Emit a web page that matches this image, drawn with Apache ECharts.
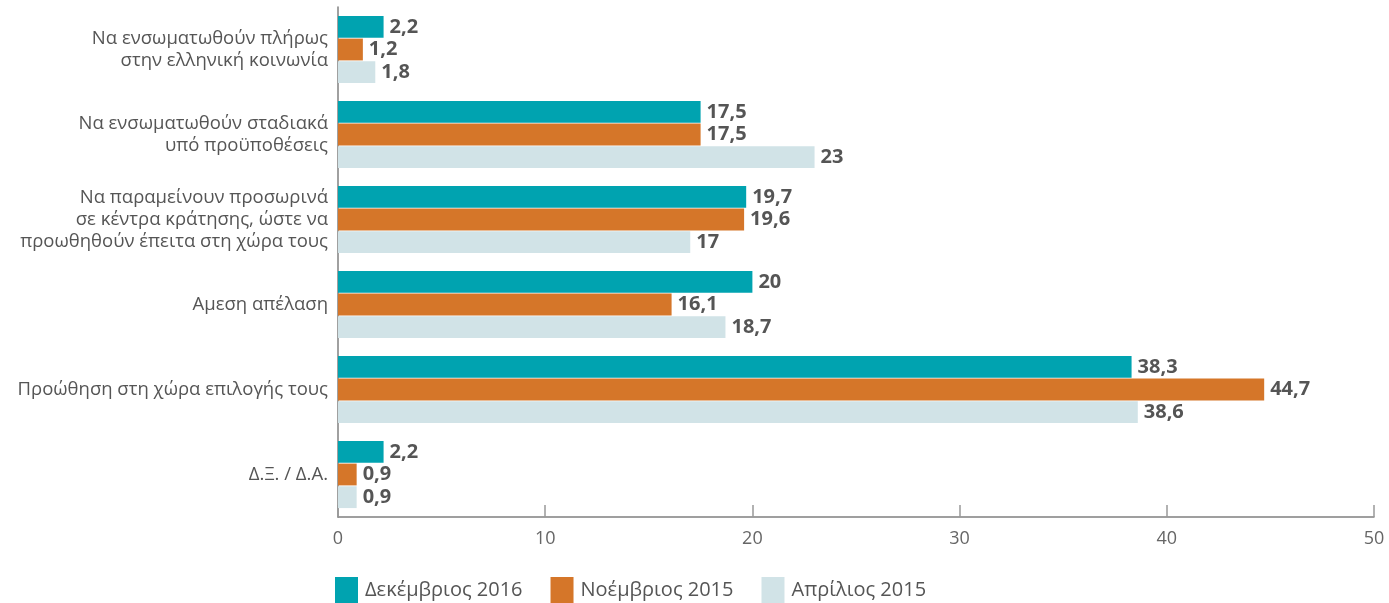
<!DOCTYPE html>
<html>
<head>
<meta charset="utf-8">
<script src="https://cdn.jsdelivr.net/npm/echarts@6/dist/echarts.min.js"></script>
<style>
  html, body { margin: 0; padding: 0; background: #ffffff; }
  #chart { width: 1389px; height: 603px; }
</style>
</head>
<body>
<div id="chart"></div>
<script>
// κατηγορίες (από πάνω προς τα κάτω)
var categories = [
  'Να ενσωματωθούν πλήρως\nστην ελληνική κοινωνία',
  'Να ενσωματωθούν σταδιακά\nυπό προϋποθέσεις',
  'Να παραμείνουν προσωρινά\nσε κέντρα κράτησης, ώστε να\nπροωθηθούν έπειτα στη χώρα τους',
  'Αμεση απέλαση',
  'Προώθηση στη χώρα επιλογής τους',
  'Δ.Ξ. / Δ.Α.'
];
var seriesNames = ['Δεκέμβριος 2016', 'Νοέμβριος 2015', 'Απρίλιος 2015'];
var dec2016 = [2.2, 17.5, 19.7, 20, 38.3, 2.2];
var nov2015 = [1.2, 17.5, 19.6, 16.1, 44.7, 0.9];
var apr2015 = [1.8, 23, 17, 18.7, 38.6, 0.9];
var colors = ['#00a3b0', '#d57629', '#d1e3e7'];

var myChart = echarts.init(document.getElementById('chart'));

var labelStyle = {
  show: true,
  position: 'right',
  distance: 6,
  color: '#555555',
  fontSize: 20,
  fontWeight: 'bold',
  fontFamily: 'Open Sans',
  formatter: function (p) {
    return String(p.value).replace('.', ',');
  }
};

function makeSeries(name, data, color) {
  return {
    name: name,
    type: 'bar',
    data: data,
    barGap: '4%',
    barCategoryGap: '21%',
    itemStyle: { color: color },
    label: labelStyle
  };
}

var option = {
  backgroundColor: '#ffffff',
  animation: false,
  textStyle: { fontFamily: 'Open Sans' },
  legend: {
    data: seriesNames,
    left: 335,
    top: 577,
    padding: 0,
    itemWidth: 23,
    itemHeight: 27,
    itemGap: 28,
    icon: 'rect',
    textStyle: { color: '#555555', fontSize: 20, fontFamily: 'Open Sans', padding: [0, 0, 0, 2] }
  },
  grid: {
    left: 338,
    right: 15,
    top: 7,
    bottom: 86,
    containLabel: false
  },
  xAxis: {
    type: 'value',
    min: 0,
    max: 50,
    interval: 10,
    axisLine: { show: true, lineStyle: { color: '#808080', width: 1.5 } },
    axisTick: { show: true, inside: true, length: 12, lineStyle: { color: '#999999', width: 1.5 } },
    axisLabel: { color: '#666666', fontSize: 18, margin: 13 },
    splitLine: { show: false }
  },
  yAxis: {
    type: 'category',
    inverse: true,
    data: categories,
    axisLine: { show: true, lineStyle: { color: '#808080', width: 1.5 } },
    axisTick: { show: false },
    axisLabel: {
      color: '#555555',
      fontSize: 18.5,
      lineHeight: 22,
      margin: 10,
      align: 'right'
    }
  },
  series: [
    makeSeries(seriesNames[0], dec2016, colors[0]),
    makeSeries(seriesNames[1], nov2015, colors[1]),
    makeSeries(seriesNames[2], apr2015, colors[2])
  ]
};

myChart.setOption(option);
</script>
</body>
</html>
